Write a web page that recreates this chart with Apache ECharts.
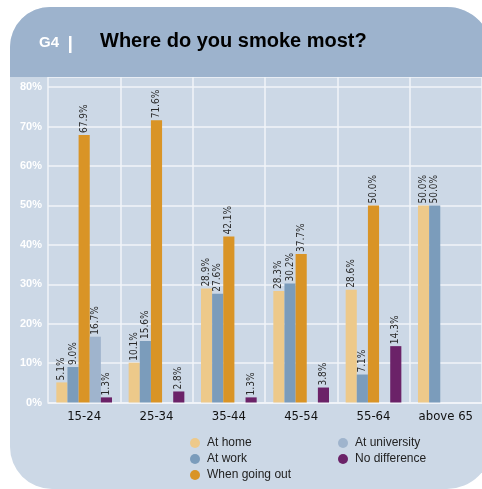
<!DOCTYPE html>
<html>
<head>
<meta charset="utf-8">
<script src="https://cdn.jsdelivr.net/npm/echarts@6/dist/echarts.min.js"></script>
<style>
html,body{margin:0;padding:0;background:#fff;}
#chart{width:482px;height:489px;}
</style>
</head>
<body>
<div id="chart"></div>
<script>
var categories = ['15-24', '25-34', '35-44', '45-54', '55-64', 'above 65'];
var seriesNames = ['At home', 'At work', 'When going out', 'At university', 'No difference'];
var atHome       = [5.1, 10.1, 28.9, 28.3, 28.6, 50.0];
var atWork       = [9.0, 15.6, 27.6, 30.2, 7.1, 50.0];
var goingOut     = [67.9, 71.6, 42.1, 37.7, 50.0, null];
var atUniversity = [16.7, null, null, null, null, null];
var noDifference = [1.3, 2.8, 1.3, 3.8, 14.3, null];
var yTicks = [0, 10, 20, 30, 40, 50, 60, 70, 80];

var colors = ['#edc98a', '#7b9cbb', '#d99426', '#9fb4cd', '#6b2268'];
var narrow = "'Liberation Sans Narrow','DejaVu Sans Condensed','Arial Narrow',sans-serif";

var chart = echarts.init(document.getElementById('chart'));

function mkSeries(name, data, color) {
  return {
    name: name,
    type: 'bar',
    data: data,
    itemStyle: { color: color },
    barGap: '0%',
    barCategoryGap: '23%',
    label: {
      show: true,
      position: 'top',
      rotate: 90,
      align: 'left',
      verticalAlign: 'middle',
      distance: 2,
      fontFamily: narrow,
      fontSize: 10,
      color: '#2a2a2a',
      formatter: function (p) { return p.value == null ? '' : p.value.toFixed(1) + '%'; }
    }
  };
}

var option = {
  animation: false,
  backgroundColor: '#ffffff',
  graphic: [
    { type: 'rect', z: -10, silent: true,
      shape: { x: 10, y: 7, width: 482, height: 482, r: [40, 45, 45, 42] },
      style: { fill: '#ccd8e6' } },
    { type: 'rect', z: 100, silent: true,
      shape: { x: 10, y: 7, width: 482, height: 70, r: [40, 45, 0, 0] },
      style: { fill: '#9db3cd' } },
    { type: 'text', z: 101, left: 39, top: 35,
      style: { text: 'G4', fill: '#ffffff', font: 'bold 15px "Liberation Sans", Arial, sans-serif' } },
    { type: 'rect', z: 101, silent: true,
      shape: { x: 69, y: 36, width: 2.5, height: 17 },
      style: { fill: '#ffffff' } },
    { type: 'text', z: 101, left: 100, top: 31,
      style: { text: 'Where do you smoke most?', fill: '#000000', font: 'bold 20px "Liberation Sans", Arial, sans-serif' } }
  ],
  legend: [
    {
      data: seriesNames.slice(0, 3),
      orient: 'vertical',
      left: 185, top: 432,
      icon: 'circle',
      itemWidth: 14, itemHeight: 10, itemGap: 4,
      textStyle: { fontFamily: '"Liberation Sans", Arial, sans-serif', fontSize: 12, color: '#222' }
    },
    {
      data: seriesNames.slice(3),
      orient: 'vertical',
      left: 333, top: 432,
      icon: 'circle',
      itemWidth: 14, itemHeight: 10, itemGap: 4,
      textStyle: { fontFamily: '"Liberation Sans", Arial, sans-serif', fontSize: 12, color: '#222' }
    }
  ],
  grid: { left: 48, top: 77, width: 438, bottom: 86.5, containLabel: false },
  xAxis: {
    type: 'category',
    data: categories,
    axisTick: { show: false },
    axisLine: { show: true, lineStyle: { color: '#f2f5f9', width: 1.5 } },
    splitLine: { show: true, lineStyle: { color: '#f2f5f9', width: 1.5 } },
    axisLabel: { fontFamily: narrow, fontSize: 13, color: '#111', margin: 8 }
  },
  yAxis: {
    type: 'value',
    min: 0, max: 82.6, interval: 10,
    axisLine: { show: false },
    axisTick: { show: false },
    splitLine: { lineStyle: { color: '#f2f5f9', width: 1.5 } },
    axisLabel: {
      margin: 6,
      color: '#ffffff',
      fontWeight: 'bold',
      fontFamily: '"Liberation Sans", Arial, sans-serif',
      fontSize: 11,
      formatter: function (v) { return yTicks.indexOf(v) >= 0 ? v + '%' : ''; }
    }
  },
  series: [
    mkSeries(seriesNames[0], atHome, colors[0]),
    mkSeries(seriesNames[1], atWork, colors[1]),
    mkSeries(seriesNames[2], goingOut, colors[2]),
    mkSeries(seriesNames[3], atUniversity, colors[3]),
    mkSeries(seriesNames[4], noDifference, colors[4])
  ]
};
chart.setOption(option);
</script>
</body>
</html>
